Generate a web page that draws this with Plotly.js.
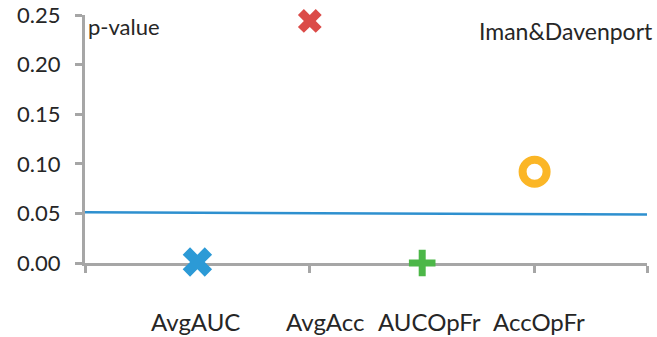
<!DOCTYPE html>
<html>
<head>
<meta charset="utf-8">
<script src="https://cdn.plot.ly/plotly-3.0.1.min.js"></script>
<style>html,body{margin:0;padding:0;background:#fff;}#chart{width:657px;height:337px;}</style>
</head>
<body>
<div id="chart"></div>
<script>
// ---- data ----
const categories = ['AvgAUC', 'AvgAcc', 'AUCOpFr', 'AccOpFr'];
const categoryX = [1, 2, 3, 4];
const pValues = [0.001, 0.244, 0.0, 0.092];
const thresholdX = [-0.098, 5];
const thresholdY = [0.0511, 0.0488];
const yTickVals = [0, 0.05, 0.10, 0.15, 0.20, 0.25];
const xTickVals = [0, 2, 4, 5];
const yLabel = 'p-value';
const testName = 'Iman&Davenport';

// ---- styles ----
const W = 657, H = 337, L = 74, R = 10, T = 15, B = 74;
const plotW = W - L - R, plotH = H - T - B;
const px = v => (v - L) / plotW;
const py = v => (H - B - v) / plotH;
const axisGray = '#A6A6A6';
const textColor = '#262626';
const font = 'Lato, "Open Sans", sans-serif';
const markerStyles = [
  {symbol: 'x', size: 26, color: '#2C9AD6', lw: 0},
  {symbol: 'x', size: 21, color: '#DB4B48', lw: 0},
  {symbol: 'cross-thin-open', size: 19, color: '#4CB748', lw: 7},
  {symbol: 'circle-open', size: 24, color: '#FBB626', lw: 8}
];
const labelShift = [-2, 15, 7, 4];

const traces = [{
  x: thresholdX, y: thresholdY, xaxis: 'x2', yaxis: 'y',
  mode: 'lines', line: {color: '#2E90CF', width: 2.5},
  hoverinfo: 'skip', showlegend: false
}];
categories.forEach((c, i) => {
  const s = markerStyles[i];
  traces.push({
    x: [categoryX[i]], y: [pValues[i]], name: c, mode: 'markers',
    cliponaxis: false, showlegend: false,
    marker: {symbol: s.symbol, size: s.size, color: s.color,
             line: {width: s.lw, color: s.color}}
  });
});

const annotations = categories.map((c, i) => ({
  text: c, x: categoryX[i], xref: 'x', y: py(321), yref: 'paper',
  xanchor: 'center', yanchor: 'middle', showarrow: false, xshift: labelShift[i],
  font: {family: font, size: 24, color: textColor}
}));
annotations.push({
  text: yLabel, x: px(86), xref: 'paper', y: py(27), yref: 'paper',
  xanchor: 'left', yanchor: 'middle', showarrow: false,
  font: {family: font, size: 22, color: textColor}
});
annotations.push({
  text: testName, x: 3.49, xref: 'x', y: py(31), yref: 'paper',
  xanchor: 'left', yanchor: 'middle', showarrow: false,
  font: {family: font, size: 23, color: textColor}
});

const layout = {
  width: W, height: H,
  margin: {l: L, r: R, t: T, b: B, pad: 0},
  paper_bgcolor: '#ffffff', plot_bgcolor: '#ffffff',
  showlegend: false,
  xaxis: {
    domain: [px(85), 1], range: [0, 5], showgrid: false, zeroline: false,
    showline: true, linecolor: axisGray, linewidth: 3,
    ticks: 'outside', tickvals: xTickVals, ticklen: 7, tickwidth: 3, tickcolor: axisGray,
    showticklabels: false, layer: 'below traces', fixedrange: true
  },
  xaxis2: {
    domain: [0, 1], range: thresholdX, overlaying: 'x', visible: false, fixedrange: true
  },
  yaxis: {
    range: [0, 0.25], showgrid: false, zeroline: false,
    showline: true, linecolor: axisGray, linewidth: 3,
    ticks: 'outside', tickvals: yTickVals, tickformat: '.2f', ticklen: 7, tickwidth: 3,
    tickcolor: axisGray, tickfont: {family: font, size: 22, color: textColor},
    ticklabelstandoff: 10, layer: 'below traces', fixedrange: true
  },
  annotations: annotations
};

Plotly.newPlot('chart', traces, layout, {displayModeBar: false, staticPlot: true});
</script>
</body>
</html>
